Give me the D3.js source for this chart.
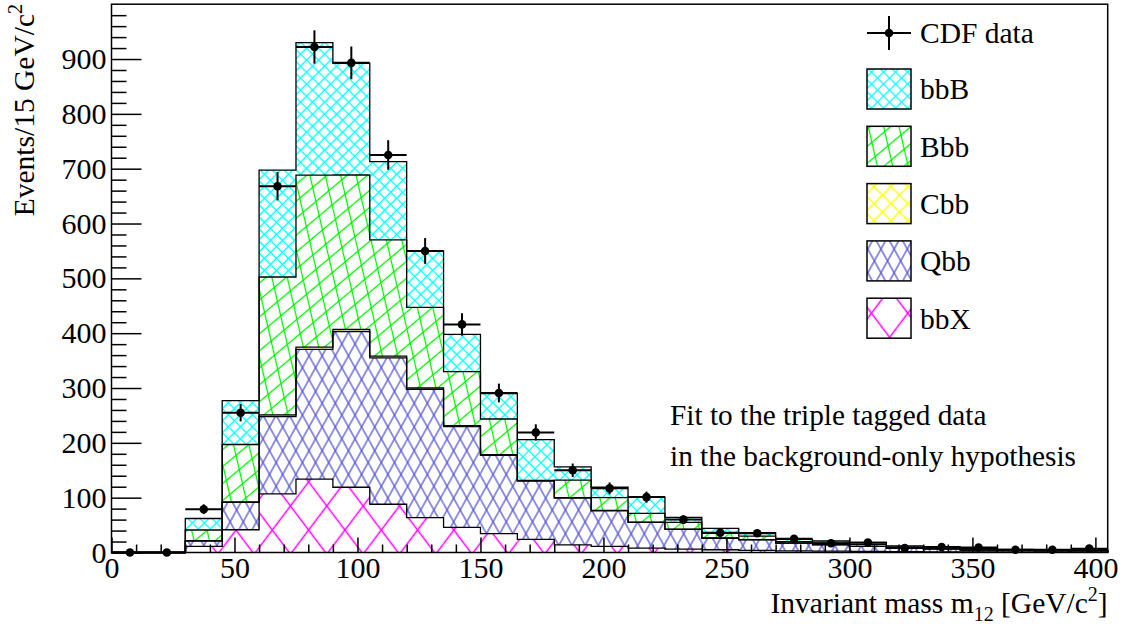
<!DOCTYPE html>
<html><head><meta charset="utf-8">
<script src="https://cdn.jsdelivr.net/npm/d3@7"></script>
<style>body{margin:0;background:#fff}svg{display:block}text{font-family:"Liberation Serif","Times New Roman",serif;fill:#000}</style>
</head><body><svg id="c" width="1121" height="624"></svg>
<script>
// ---- data ----
const binLow = [0,15,30,45,60,75,90,105,120,135,150,165,180,195,210,225,240,255,270,285,300,315,330,345,360,375,390];
const binWidth = 15;
const bbX = [0,0,11,41.5,107,134,119,88,63.5,46,34.5,24,14,11,8,6,5,4,3,2.5,2,1.5,1.2,1,0.8,0.6,0.6];
const Qbb = [0,0,10,50,141,236.5,283.7,267,234,183.5,142.5,106,85,65,47,36,21,19,14,11.5,9,6.1,5.2,3.5,2.7,2.2,2.2];
const Cbb = [0,0,0.5,1,3,4,4,3,2.5,2,1.5,1,1,1,0.5,0.5,0.5,0.3,0.3,0.2,0.2,0.1,0.1,0.1,0.1,0.1,0.1];
const Bbb = [0,0,19.5,104.5,251.5,313.9,281.8,212,147,98.5,65,0.5,32,23,16,12.5,8.5,6.7,2.7,2.8,3.8,2.3,2,1.4,1,0.8,0.8];
const bbB = [0,0,21,80,195,241.5,203.5,142.8,103,68,46.5,74.5,24,19,29.5,9,9,6,4,4,3.5,2,2.1,1.6,1.2,0.9,0.9];
const cdfData = [0,0,79,255,668,922,893,725,550,416,291,219,150,117,101,60,36,35,25,17,18,8,10,9,5,5,7];
const yMajor = [0,100,200,300,400,500,600,700,800,900];
const yMinor = [20,40,60,80,120,140,160,180,220,240,260,280,320,340,360,380,420,440,460,480,520,540,560,580,620,640,660,680,720,740,760,780,820,840,860,880,920,940,960,980];
const xMajor = [0,50,100,150,200,250,300,350,400];
const xMinor = [10,20,30,40,60,70,80,90,110,120,130,140,160,170,180,190,210,220,230,240,260,270,280,290,310,320,330,340,360,370,380,390];
const keys = ["bbX","Qbb","Cbb","Bbb","bbB"];
const legendOrder = ["bbB","Bbb","Cbb","Qbb","bbX"];

// ---- setup ----
const svg = d3.select("#c");
const L = 111.5, R = 1107.7, T = 4.2, B = 552.5;
const x = d3.scaleLinear().domain([0,405]).range([L,R]);
const y = d3.scaleLinear().domain([0,1000]).range([B,T]);

const hatch = {
  bbB: {color:"#00ffff", fam:[[45,8.5],[-45,8.5]]},
  Bbb: {color:"#00ee00", fam:[[77,15],[-40,13]]},
  Cbb: {color:"#ffff00", fam:[[45,12],[-45,12]]},
  Qbb: {color:"#5656d6", fam:[[61,11.5],[-61,11.5]]},
  bbX: {color:"#ff00ff", fam:[[53,29],[-53,29]]}
};
const defs = svg.append("defs");
keys.forEach(k=>{
  hatch[k].fam.forEach((f,i)=>{
    const p = defs.append("pattern").attr("id",`h_${k}_${i}`)
      .attr("patternUnits","userSpaceOnUse").attr("width",f[1]).attr("height",f[1])
      .attr("patternTransform",`rotate(${f[0]})`);
    p.append("line").attr("x1",-2).attr("x2",f[1]+2).attr("y1",f[1]/2).attr("y2",f[1]/2)
      .attr("stroke",hatch[k].color).attr("stroke-width",1.3);
  });
});

const table = binLow.map((lo,i)=>({lo, bbX:bbX[i], Qbb:Qbb[i], Cbb:Cbb[i], Bbb:Bbb[i], bbB:bbB[i]}));
const series = d3.stack().keys(keys)(table);

const gFill = svg.append("g");
series.forEach(s=>{
  const k = s.key;
  const layers = ["#fff"].concat(hatch[k].fam.map((f,i)=>`url(#h_${k}_${i})`));
  layers.forEach(fill=>{
    gFill.selectAll(null).data(s).enter().append("rect")
      .attr("x",d=>x(d.data.lo)).attr("width",d=>x(d.data.lo+binWidth)-x(d.data.lo))
      .attr("y",d=>y(d[1])).attr("height",d=>Math.max(0,y(d[0])-y(d[1])))
      .attr("fill",fill);
  });
});
// outlines of cumulative histograms
const gOut = svg.append("g");
series.forEach(s=>{
  let path = d3.path();
  path.moveTo(x(0), y(0));
  s.forEach(d=>{ path.lineTo(x(d.data.lo), y(d[1])); path.lineTo(x(d.data.lo+binWidth), y(d[1])); });
  path.lineTo(x(405), y(0));
  gOut.append("path").attr("d",path.toString()).attr("fill","none").attr("stroke","#000").attr("stroke-width",1.3);
});

// axes
const fs = 30;
const gy = svg.append("g").attr("transform",`translate(${L},0)`);
gy.call(d3.axisLeft(y).tickValues(yMajor).tickSizeInner(-30).tickSizeOuter(0).tickPadding(5).tickFormat(d3.format("d")));
const gym = svg.append("g").attr("transform",`translate(${L},0)`);
gym.call(d3.axisLeft(y).tickValues(yMinor).tickSizeInner(-15).tickSizeOuter(0).tickFormat(""));
const gx = svg.append("g").attr("transform",`translate(0,${B})`);
gx.call(d3.axisBottom(x).tickValues(xMajor).tickSizeInner(-15).tickSizeOuter(0).tickPadding(4).tickFormat(d3.format("d")));
const gxm = svg.append("g").attr("transform",`translate(0,${B})`);
gxm.call(d3.axisBottom(x).tickValues(xMinor).tickSizeInner(-8).tickSizeOuter(0).tickFormat(""));
svg.selectAll(".domain").remove();
svg.selectAll(".tick line").attr("stroke","#000").attr("stroke-width",1.5);
svg.selectAll(".tick text").attr("font-size",fs).attr("font-family","Liberation Serif");

// frame
svg.append("rect").attr("x",L).attr("y",T).attr("width",R-L).attr("height",B-T)
  .attr("fill","none").attr("stroke","#000").attr("stroke-width",1.5);

// data points
const gD = svg.append("g");
binLow.forEach((lo,i)=>{
  const v = cdfData[i], cx = x(lo+binWidth/2), e = Math.sqrt(v);
  gD.append("line").attr("x1",x(lo)).attr("x2",x(lo+binWidth)).attr("y1",y(v)).attr("y2",y(v)).attr("stroke","#000").attr("stroke-width",2);
  if (v>0) gD.append("line").attr("x1",cx).attr("x2",cx).attr("y1",y(v-e)).attr("y2",y(v+e)).attr("stroke","#000").attr("stroke-width",2);
  gD.append("circle").attr("cx",cx).attr("cy",y(v)).attr("r",4.3).attr("fill","#000");
});

// legend
const lg = svg.append("g");
const lx = 867, lw = 44, lh = 40, tx = 920;
lg.append("line").attr("x1",lx).attr("x2",lx+lw).attr("y1",33).attr("y2",33).attr("stroke","#000").attr("stroke-width",2);
lg.append("line").attr("x1",lx+lw/2).attr("x2",lx+lw/2).attr("y1",16).attr("y2",50).attr("stroke","#000").attr("stroke-width",2);
lg.append("circle").attr("cx",lx+lw/2).attr("cy",33).attr("r",4.3).attr("fill","#000");
lg.append("text").attr("x",tx).attr("y",33).attr("dy","0.35em").attr("font-size",29.5).text("CDF data");
legendOrder.forEach((k,i)=>{
  const cy = 89 + i*57.3;
  ["#fff"].concat(hatch[k].fam.map((f,j)=>`url(#h_${k}_${j})`)).forEach(fill=>{
    lg.append("rect").attr("x",lx).attr("y",cy-lh/2).attr("width",lw).attr("height",lh).attr("fill",fill);
  });
  lg.append("rect").attr("x",lx).attr("y",cy-lh/2).attr("width",lw).attr("height",lh).attr("fill","none").attr("stroke","#000").attr("stroke-width",1.5);
  lg.append("text").attr("x",tx).attr("y",cy).attr("dy","0.35em").attr("font-size",29.5).text(k);
});

// annotation
svg.append("text").attr("x",670).attr("y",425).attr("font-size",29.3).text("Fit to the triple tagged data");
svg.append("text").attr("x",670).attr("y",466).attr("font-size",29.3).text("in the background-only hypothesis");

// axis titles
const yt = svg.append("text").attr("transform","translate(34,4) rotate(-90)").attr("text-anchor","end").attr("font-size",29.5);
yt.append("tspan").text("Events/15 GeV/c");
yt.append("tspan").attr("font-size",20).attr("dy",-12).text("2");
const xt = svg.append("text").attr("x",R).attr("y",613).attr("text-anchor","end").attr("font-size",29.5);
xt.append("tspan").text("Invariant mass m");
xt.append("tspan").attr("font-size",20).attr("dy",8).text("12");
xt.append("tspan").attr("dy",-8).text(" [GeV/c");
xt.append("tspan").attr("font-size",20).attr("dy",-12).text("2");
xt.append("tspan").attr("dy",12).text("]");
</script></body></html>
